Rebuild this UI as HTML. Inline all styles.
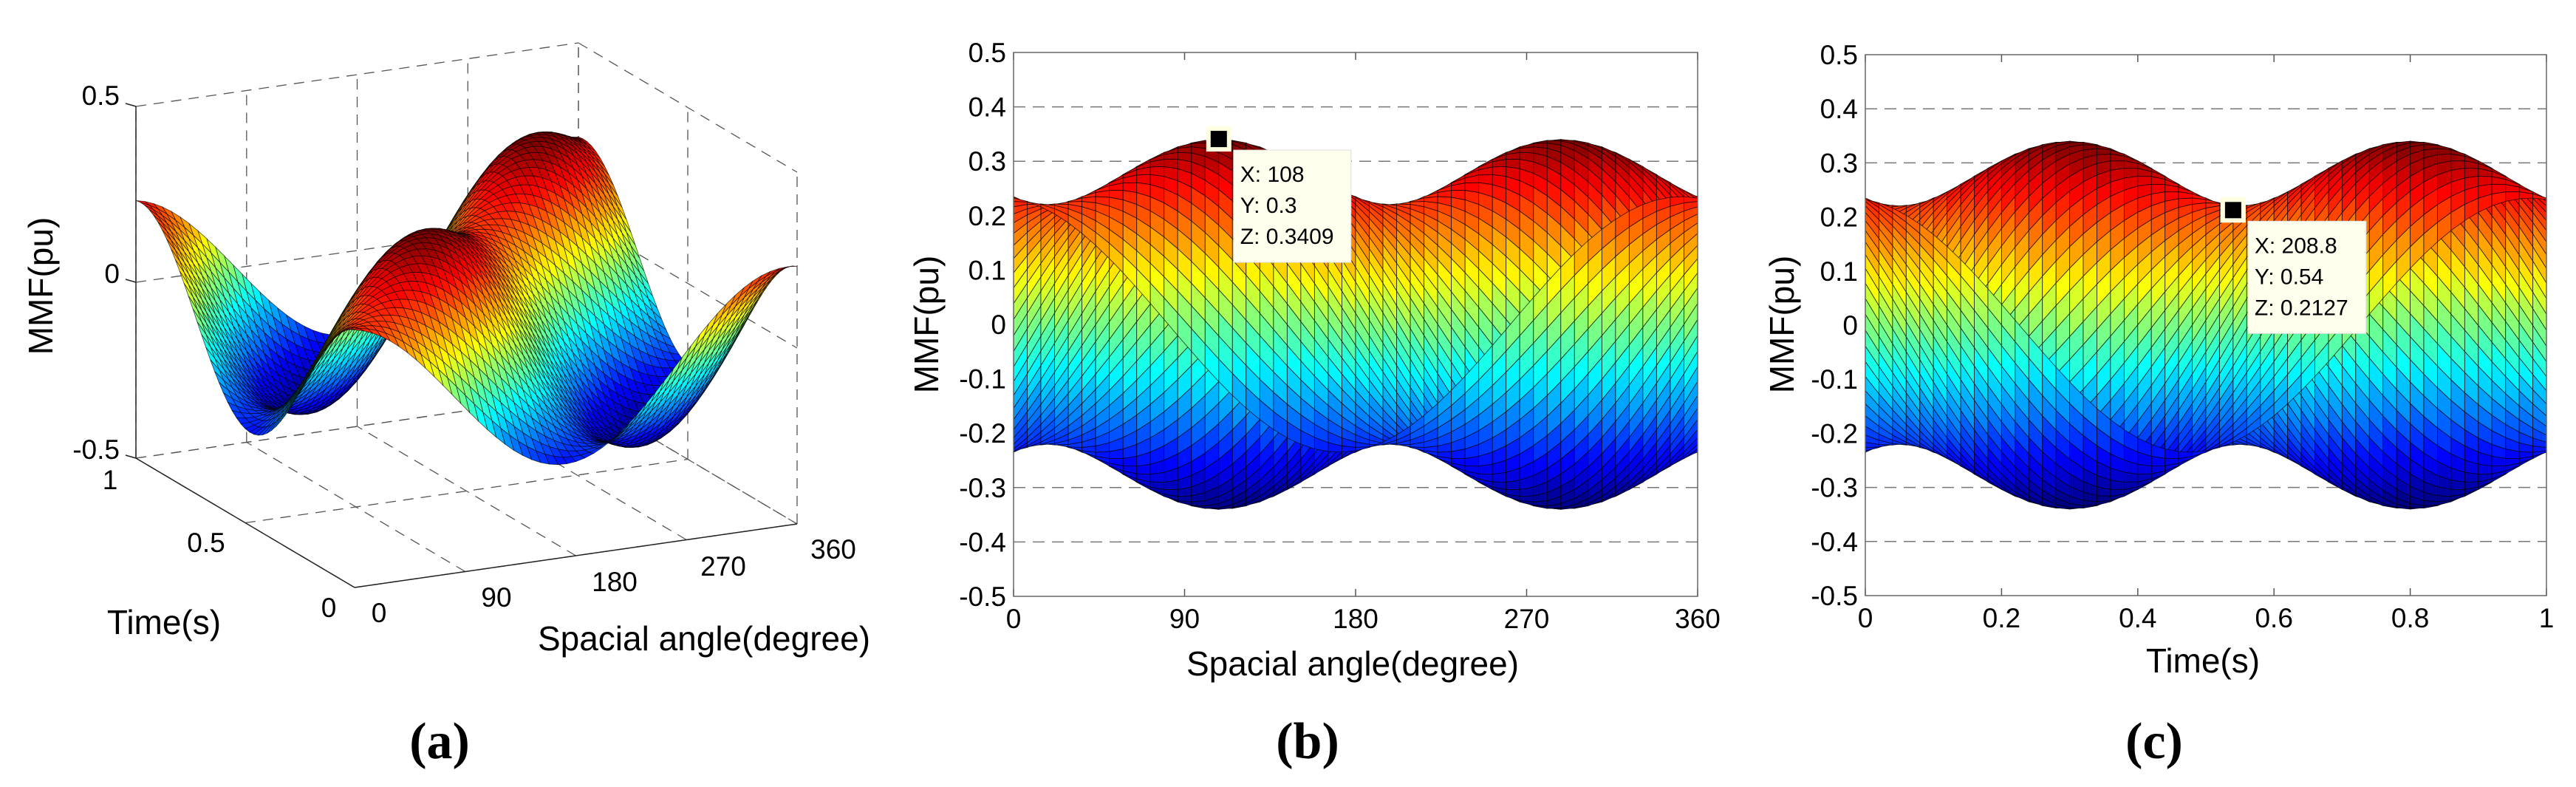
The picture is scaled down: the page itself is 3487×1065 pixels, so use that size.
<!DOCTYPE html>
<html><head><meta charset="utf-8"><style>
html,body{margin:0;padding:0;background:#fff;}
svg{display:block;}
text{font-family:"Liberation Sans",Arial,sans-serif;fill:#000;}
.tk{font-size:37px;}
.al{font-size:46px;}
.pl{font-family:"Liberation Serif",serif;font-size:70px;font-weight:bold;}
.dt{font-size:30px;}
</style></head><body>
<svg id="fig" width="3487" height="1065" viewBox="0 0 3487 1065" xmlns="http://www.w3.org/2000/svg">
<g id="pa"></g>
<g id="pb"></g>
<g id="pc"></g>
<g id="labels">
  <text class="tk" x="162" y="142" text-anchor="end">0.5</text>
  <text class="tk" x="162" y="383" text-anchor="end">0</text>
  <text class="tk" x="162" y="621" text-anchor="end">-0.5</text>
  <text class="tk" x="149" y="662" text-anchor="middle">1</text>
  <text class="tk" x="279" y="747" text-anchor="middle">0.5</text>
  <text class="tk" x="445" y="835" text-anchor="middle">0</text>
  <text class="tk" x="513" y="842" text-anchor="middle">0</text>
  <text class="tk" x="672" y="821" text-anchor="middle">90</text>
  <text class="tk" x="832" y="800" text-anchor="middle">180</text>
  <text class="tk" x="979" y="779" text-anchor="middle">270</text>
  <text class="tk" x="1128" y="756" text-anchor="middle">360</text>
  <text class="al" x="222" y="858" text-anchor="middle">Time(s)</text>
  <text class="al" x="953" y="880" text-anchor="middle">Spacial angle(degree)</text>
  <text class="al" transform="translate(71,387) rotate(-90)" text-anchor="middle">MMF(pu)</text>
  <text class="pl" x="595" y="1026" text-anchor="middle">(a)</text>
  <text class="al" x="1831" y="914" text-anchor="middle">Spacial angle(degree)</text>
  <text class="al" transform="translate(1270,439) rotate(-90)" text-anchor="middle">MMF(pu)</text>
  <text class="pl" x="1770" y="1026" text-anchor="middle">(b)</text>
  <text class="al" x="2982" y="910" text-anchor="middle">Time(s)</text>
  <text class="al" transform="translate(2428,439) rotate(-90)" text-anchor="middle">MMF(pu)</text>
  <text class="pl" x="2916" y="1026" text-anchor="middle">(c)</text>
</g>
</svg>
<script>
const waveAmps = [0.2805, 0.0595];
const wavePhases = [0, 144];
const waveDirs = [-1, 1];
const angleTicks = [0, 90, 180, 270, 360];
const timeTicksB = [0, 0.2, 0.4, 0.6, 0.8, 1];
const timeTicksA = [0, 0.5, 1];
const mmfTicks = [0.5, 0.4, 0.3, 0.2, 0.1, 0, -0.1, -0.2, -0.3, -0.4, -0.5];
const mmfTickLabels = ['0.5','0.4','0.3','0.2','0.1','0','-0.1','-0.2','-0.3','-0.4','-0.5'];
const zTicksA = [-0.5, 0, 0.5];
const tipB = {x:108, y:0.3, z:0.3409};
const tipC = {x:208.8, y:0.54, z:0.2127};
const NTH = 50, NT = 50;

const NS = 'http://www.w3.org/2000/svg';
function mk(tag, attrs, parent){const e=document.createElementNS(NS,tag);for(const k in attrs)e.setAttribute(k,attrs[k]);parent.appendChild(e);return e;}
function mmf(th,t){let s=0;for(let k=0;k<waveAmps.length;k++){s+=waveAmps[k]*Math.cos((th+waveDirs[k]*360*t+wavePhases[k])*Math.PI/180);}return s;}
const thGrid=[],tGrid=[];
for(let i=0;i<=NTH;i++)thGrid.push(360*i/NTH);
for(let j=0;j<=NT;j++)tGrid.push(j/NT);
const Z=thGrid.map(th=>tGrid.map(t=>mmf(th,t)));
let zmin=Infinity,zmax=-Infinity;Z.forEach(r=>r.forEach(v=>{zmin=Math.min(zmin,v);zmax=Math.max(zmax,v);}));
function jet(v){v=(v-zmin)/(zmax-zmin);v=Math.max(0,Math.min(1,v));v=Math.floor(v*63.999)/63;
 const c=x=>Math.round(255*Math.max(0,Math.min(1,x)));
 return 'rgb('+c(1.5-Math.abs(4*v-3))+','+c(1.5-Math.abs(4*v-2))+','+c(1.5-Math.abs(4*v-1))+')';}

const pa=document.getElementById('pa');
function P(th,t,z){return [480+th/360*599-t*296, 795-th/360*86-t*175-(z+0.5)*476];}
function line(g,a,b,dash,name,col,w){const l=mk('line',{x1:a[0].toFixed(1),y1:a[1].toFixed(1),x2:b[0].toFixed(1),y2:b[1].toFixed(1),stroke:col||'#000','stroke-width':w||1.5},g);if(dash)l.setAttribute('stroke-dasharray','14 10');


return l;}
zTicksA.forEach(z=>{line(pa,P(0,1,z),P(360,1,z),true,'a-grid-z','#555',1.3);line(pa,P(360,1,z),P(360,0,z),true,'a-grid-z','#555',1.3);});
angleTicks.forEach(th=>{line(pa,P(th,1,-0.5),P(th,1,0.5),true,'a-grid-angle','#555',1.3);line(pa,P(th,0,-0.5),P(th,1,-0.5),true,'a-grid-angle','#555',1.3);});
timeTicksA.forEach(t=>{line(pa,P(360,t,-0.5),P(360,t,0.5),true,'a-grid-time','#555',1.3);line(pa,P(0,t,-0.5),P(360,t,-0.5),true,'a-grid-time','#555',1.3);});
line(pa,P(0,1,-0.5),P(0,1,0.5),false,'a-z-axis','#222',1.5);
line(pa,P(0,0,-0.5),P(0,1,-0.5),false,'a-time-axis','#222',1.5);
line(pa,P(0,0,-0.5),P(360,0,-0.5),false,'a-angle-axis','#222',1.5);
zTicksA.forEach(z=>line(pa,P(0,1,z),[P(0,1,z)[0]-14,P(0,1,z)[1]-4],false,'a-z-tick-mark','#222',1.5));
const quads=[];
for(let i=0;i<NTH;i++)for(let j=0;j<NT;j++){quads.push([i,j,86*(thGrid[i]+thGrid[i+1])/720+175*(tGrid[j]+tGrid[j+1])/2]);}
quads.sort((a,b)=>b[2]-a[2]);
const sa=mk('g',{},pa);


quads.forEach(q=>{const i=q[0],j=q[1];
 const pts=[P(thGrid[i],tGrid[j],Z[i][j]),P(thGrid[i+1],tGrid[j],Z[i+1][j]),P(thGrid[i+1],tGrid[j+1],Z[i+1][j+1]),P(thGrid[i],tGrid[j+1],Z[i][j+1])];
 const p=mk('path',{d:'M'+pts.map(p=>p[0].toFixed(1)+' '+p[1].toFixed(1)).join('L')+'Z',fill:jet(Z[i][j]),stroke:'#000','stroke-width':0.8,'stroke-opacity':0.7},sa);
 
 
});

function panel2D(g,L,R,T,B,xTicks,xLabels,xmin,xmax,order,proj,tip,tipBox,pfx){
 const X=v=>L+(v-xmin)/(xmax-xmin)*(R-L);
 const Y=v=>T+(0.5-v)/1*(B-T);
 mk('rect',{x:L,y:T,width:R-L,height:B-T,fill:'#fff'},g);
 mmfTicks.forEach((v,k)=>{
  if(Math.abs(v)<0.5){const l=mk('line',{x1:L,x2:R,y1:Y(v),y2:Y(v),stroke:'#777','stroke-width':1.5,'stroke-dasharray':'16 10'},g);
   
   }
  const t=mk('text',{x:L-10,y:Y(v)+13,'text-anchor':'end',class:'tk'},g);t.textContent=mmfTickLabels[k];
  
  
 });
 xTicks.forEach((v,k)=>{const t=mk('text',{x:X(v),y:B+43,'text-anchor':'middle',class:'tk'},g);t.textContent=xLabels[k];
  
  
  mk('line',{x1:X(v),x2:X(v),y1:T,y2:T+10,stroke:'#555','stroke-width':1.5},g);
  mk('line',{x1:X(v),x2:X(v),y1:B,y2:B-10,stroke:'#555','stroke-width':1.5},g);
 });
 const sg=mk('g',{},g);
 
 
 order.forEach(q=>{const pts=proj(q[0],q[1]).map(p=>[X(p[0]),Y(p[1])]);
  const p=mk('path',{d:'M'+pts.map(p=>p[0].toFixed(1)+' '+p[1].toFixed(1)).join('L')+'Z',fill:jet(Z[q[0]][q[1]]),stroke:'#000','stroke-width':0.9,'stroke-opacity':0.7},sg);
  
  
 });
 const bx=mk('rect',{x:L,y:T,width:R-L,height:B-T,fill:'none',stroke:'#666','stroke-width':1.5},g);
 
 
 const mx=X(tip.px),my=Y(tip.z);
 const mo=mk('rect',{x:mx-17,y:my-17,width:34,height:34,fill:'#ffffe0'},g);
 
 
 mk('rect',{x:mx-11,y:my-11,width:22,height:22,fill:'#000'},g);
 const bb=mk('rect',{x:mx+20,y:my+15,width:tipBox,height:152,fill:'#ffffee',stroke:'#ddd','stroke-width':1},g);
 
 
 ['X: '+tip.x,'Y: '+tip.y,'Z: '+tip.z].forEach((s,k)=>{const t=mk('text',{x:mx+29,y:my+58+k*42,class:'dt'},g);t.textContent=s;
  
  });
}
const orderB=[];for(let j=NT-1;j>=0;j--)for(let i=0;i<NTH;i++)orderB.push([i,j]);
panel2D(document.getElementById('pb'),1372,2298,71,807,angleTicks,['0','90','180','270','360'],0,360,orderB,
 (i,j)=>[[thGrid[i],Z[i][j]],[thGrid[i+1],Z[i+1][j]],[thGrid[i+1],Z[i+1][j+1]],[thGrid[i],Z[i][j+1]]],
 {px:tipB.x,x:tipB.x,y:tipB.y,z:tipB.z},159,'b');
const orderC=[];for(let i=0;i<NTH;i++)for(let j=0;j<NT;j++)orderC.push([i,j]);
panel2D(document.getElementById('pc'),2525,3447,74,806,timeTicksB,['0','0.2','0.4','0.6','0.8','1'],0,1,orderC,
 (i,j)=>[[tGrid[j],Z[i][j]],[tGrid[j+1],Z[i][j+1]],[tGrid[j+1],Z[i+1][j+1]],[tGrid[j],Z[i+1][j]]],
 {px:tipC.y,x:tipC.x,y:tipC.y,z:tipC.z},160,'c');
</script>
</body></html>
